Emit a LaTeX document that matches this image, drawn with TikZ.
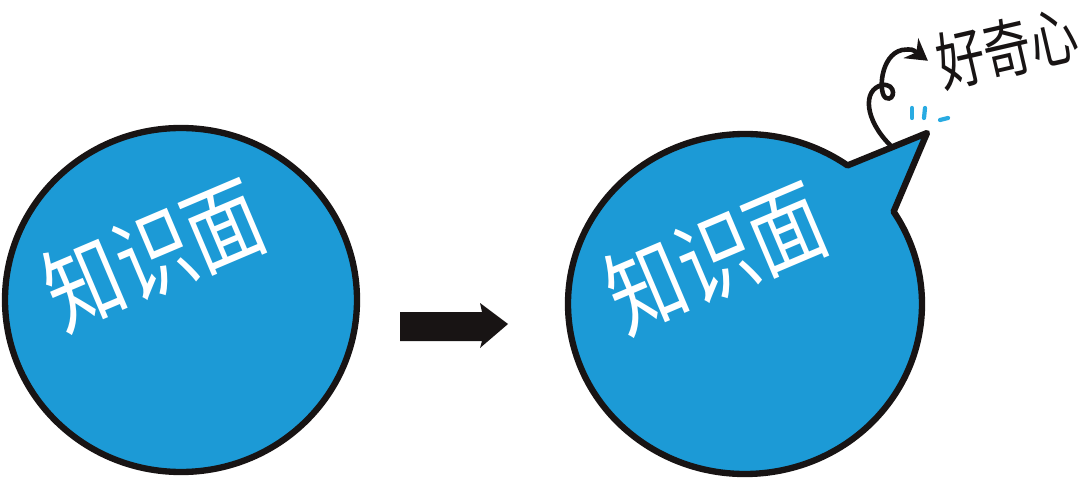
\documentclass[tikz,border=0pt]{standalone}
\usepackage{fontspec}
\usetikzlibrary{arrows.meta}
\newfontfamily\cjk{Noto Sans CJK SC}
\definecolor{bubblue}{RGB}{28,154,214}
\definecolor{tickblue}{RGB}{41,171,226}
\definecolor{inkblack}{RGB}{24,20,20}

\begin{document}
\begin{tikzpicture}[x=1cm,y=1cm,>=stealth,
  bub/.style={fill=bubblue,draw=inkblack,line width=1.8pt,line join=round},
  zsm/.style={text=white,font=\cjk\fontsize{21.5}{21.5}\selectfont,rotate=23,yscale=1.25,inner sep=0pt},
  curl/.style={draw=inkblack,line width=1.3pt,line cap=round,shorten >=2pt,-{Stealth[length=6pt,width=7pt]}},
  tick/.style={draw=tickblue,line width=1.2pt,line cap=round}]
 \useasboundingbox (0,0) rectangle (10.8,4.82);
 \coordinate (lc) at (1.81,1.82);
 \coordinate (rc) at (7.45,1.78);
 \coordinate (tip) at (9.27,3.49);
 \coordinate (spk) at (8.90,3.37);
 \draw[bub] (lc) ellipse[x radius=1.76,y radius=1.72];
 \node[zsm] (zl) at ([shift={(-0.27,0.46)}]lc) {知识面};
 \fill[inkblack] (4.00,1.70) -- (4.82,1.70) -- (4.80,1.79) -- (5.08,1.58)
   -- (4.80,1.34) -- (4.82,1.41) -- (4.00,1.41) -- cycle;
 \draw[bub] ([shift={(rc)}]54.6:1.77 and 1.70)
   arc[start angle=54.6,end angle=392.9,x radius=1.77,y radius=1.70]
   -- (tip) -- cycle;
 \node[zsm] (zr) at ([shift={(-0.29,0.47)}]rc) {知识面};
 \node[text=inkblack,font=\cjk\fontsize{13.5}{13.5}\selectfont,rotate=13,yscale=1.35,inner sep=1pt]
   (hqx) at (10.07,4.34) {好奇心};
 \draw[curl] (spk) .. controls (8.65,3.62) and (8.62,3.92) .. (8.82,3.97)
   .. controls (8.97,3.99) and (8.95,3.80) .. (8.86,3.84)
   .. controls (8.78,3.88) and (8.80,4.27) .. (9.02,4.32)
   .. controls (9.12,4.33) .. (hqx.west);
 \draw[tick] (9.12,3.74) -- (9.12,3.64);
 \draw[tick] (9.25,3.74) -- (9.24,3.64);
 \draw[tick] (9.40,3.62) -- (9.48,3.64);
\end{tikzpicture}
\end{document}
